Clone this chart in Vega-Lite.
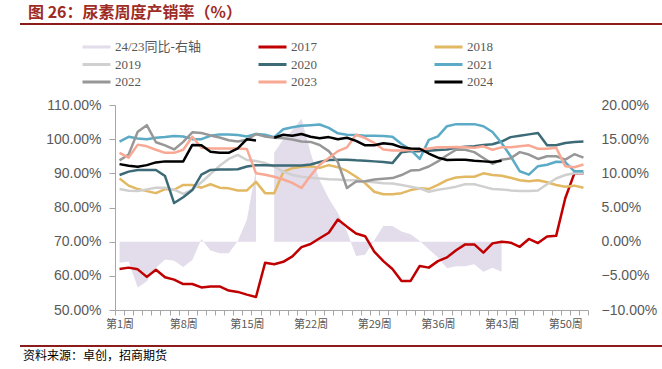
{
"$schema": "https://vega.github.io/schema/vega-lite/v6.json",
"background": "white",
"padding": {"left": 20, "top": 4, "right": 0, "bottom": 0},
"config": {"view": {"stroke": null}},
"datasets": {
"yoy": [
{"s":"24/23同比-右轴","w":1,"v":-3.1},{"s":"24/23同比-右轴","w":2,"v":-2.9},{"s":"24/23同比-右轴","w":3,"v":-6.7},{"s":"24/23同比-右轴","w":4,"v":-5.8},{"s":"24/23同比-右轴","w":5,"v":-3.8},{"s":"24/23同比-右轴","w":6,"v":-2.6},{"s":"24/23同比-右轴","w":7,"v":-2.8},{"s":"24/23同比-右轴","w":8,"v":-3.7},{"s":"24/23同比-右轴","w":9,"v":-2.7},{"s":"24/23同比-右轴","w":10,"v":0.4},
{"s":"24/23同比-右轴","w":11,"v":-1.3},{"s":"24/23同比-右轴","w":12,"v":-1.7},{"s":"24/23同比-右轴","w":13,"v":-1.7},{"s":"24/23同比-右轴","w":14,"v":0.1},{"s":"24/23同比-右轴","w":15,"v":3.2},{"s":"24/23同比-右轴","w":16,"v":10.6},{"s":"24/23同比-右轴","w":17,"v":null},{"s":"24/23同比-右轴","w":18,"v":13.0},{"s":"24/23同比-右轴","w":19,"v":15.0},{"s":"24/23同比-右轴","w":20,"v":16.3},
{"s":"24/23同比-右轴","w":21,"v":18.0},{"s":"24/23同比-右轴","w":22,"v":13.0},{"s":"24/23同比-右轴","w":23,"v":9.0},{"s":"24/23同比-右轴","w":24,"v":6.3},{"s":"24/23同比-右轴","w":25,"v":4.2},{"s":"24/23同比-右轴","w":26,"v":1.5},{"s":"24/23同比-右轴","w":27,"v":-2.1},{"s":"24/23同比-右轴","w":28,"v":-1.9},{"s":"24/23同比-右轴","w":29,"v":0.2},{"s":"24/23同比-右轴","w":30,"v":2.3},
{"s":"24/23同比-右轴","w":31,"v":2.3},{"s":"24/23同比-右轴","w":32,"v":1.5},{"s":"24/23同比-右轴","w":33,"v":1.1},{"s":"24/23同比-右轴","w":34,"v":0.1},{"s":"24/23同比-右轴","w":35,"v":-1.1},{"s":"24/23同比-右轴","w":36,"v":-2.3},{"s":"24/23同比-右轴","w":37,"v":-3.9},{"s":"24/23同比-右轴","w":38,"v":-3.6},{"s":"24/23同比-右轴","w":39,"v":-3.6},{"s":"24/23同比-右轴","w":40,"v":-3.3},
{"s":"24/23同比-右轴","w":41,"v":-4.4},{"s":"24/23同比-右轴","w":42,"v":-3.8},{"s":"24/23同比-右轴","w":43,"v":-4.4}
],
"rates": [
{"s":"2017","w":1,"v":62.0},{"s":"2017","w":2,"v":62.4},{"s":"2017","w":3,"v":61.9},{"s":"2017","w":4,"v":59.7},{"s":"2017","w":5,"v":61.8},{"s":"2017","w":6,"v":59.6},{"s":"2017","w":7,"v":58.9},{"s":"2017","w":8,"v":57.6},{"s":"2017","w":9,"v":57.6},{"s":"2017","w":10,"v":56.6},
{"s":"2017","w":11,"v":56.9},{"s":"2017","w":12,"v":56.9},{"s":"2017","w":13,"v":55.7},{"s":"2017","w":14,"v":55.3},{"s":"2017","w":15,"v":54.5},{"s":"2017","w":16,"v":53.8},{"s":"2017","w":17,"v":63.8},{"s":"2017","w":18,"v":63.4},{"s":"2017","w":19,"v":64.1},{"s":"2017","w":20,"v":65.7},
{"s":"2017","w":21,"v":68.4},{"s":"2017","w":22,"v":69.3},{"s":"2017","w":23,"v":71.0},{"s":"2017","w":24,"v":72.6},{"s":"2017","w":25,"v":76.5},{"s":"2017","w":26,"v":74.4},{"s":"2017","w":27,"v":72.4},{"s":"2017","w":28,"v":71.6},{"s":"2017","w":29,"v":67.1},{"s":"2017","w":30,"v":64.3},
{"s":"2017","w":31,"v":62.0},{"s":"2017","w":32,"v":58.5},{"s":"2017","w":33,"v":58.5},{"s":"2017","w":34,"v":62.9},{"s":"2017","w":35,"v":62.4},{"s":"2017","w":36,"v":64.3},{"s":"2017","w":37,"v":65.4},{"s":"2017","w":38,"v":67.5},{"s":"2017","w":39,"v":69.2},{"s":"2017","w":40,"v":69.2},
{"s":"2017","w":41,"v":66.8},{"s":"2017","w":42,"v":69.5},{"s":"2017","w":43,"v":70.0},{"s":"2017","w":44,"v":69.7},{"s":"2017","w":45,"v":68.5},{"s":"2017","w":46,"v":70.8},{"s":"2017","w":47,"v":69.6},{"s":"2017","w":48,"v":71.5},{"s":"2017","w":49,"v":71.7},{"s":"2017","w":50,"v":82.7},
{"s":"2017","w":51,"v":90.0},{"s":"2017","w":52,"v":90.0},
{"s":"2018","w":1,"v":88.5},{"s":"2018","w":2,"v":86.4},{"s":"2018","w":3,"v":85.4},{"s":"2018","w":4,"v":84.8},{"s":"2018","w":5,"v":84.2},{"s":"2018","w":6,"v":85.4},{"s":"2018","w":7,"v":85.2},{"s":"2018","w":8,"v":86.6},{"s":"2018","w":9,"v":86.6},{"s":"2018","w":10,"v":85.8},
{"s":"2018","w":11,"v":86.8},{"s":"2018","w":12,"v":85.8},{"s":"2018","w":13,"v":85.6},{"s":"2018","w":14,"v":85.0},{"s":"2018","w":15,"v":85.0},{"s":"2018","w":16,"v":87.5},{"s":"2018","w":17,"v":84.2},{"s":"2018","w":18,"v":84.2},{"s":"2018","w":19,"v":90.4},{"s":"2018","w":20,"v":91.5},
{"s":"2018","w":21,"v":91.9},{"s":"2018","w":22,"v":92.1},{"s":"2018","w":23,"v":91.6},{"s":"2018","w":24,"v":92.4},{"s":"2018","w":25,"v":91.8},{"s":"2018","w":26,"v":90.7},{"s":"2018","w":27,"v":89.0},{"s":"2018","w":28,"v":87.1},{"s":"2018","w":29,"v":84.6},{"s":"2018","w":30,"v":83.9},
{"s":"2018","w":31,"v":83.9},{"s":"2018","w":32,"v":84.2},{"s":"2018","w":33,"v":85.1},{"s":"2018","w":34,"v":85.6},{"s":"2018","w":35,"v":85.4},{"s":"2018","w":36,"v":86.6},{"s":"2018","w":37,"v":88.0},{"s":"2018","w":38,"v":88.8},{"s":"2018","w":39,"v":89.0},{"s":"2018","w":40,"v":89.0},
{"s":"2018","w":41,"v":90.0},{"s":"2018","w":42,"v":89.5},{"s":"2018","w":43,"v":89.3},{"s":"2018","w":44,"v":88.7},{"s":"2018","w":45,"v":88.0},{"s":"2018","w":46,"v":87.7},{"s":"2018","w":47,"v":88.0},{"s":"2018","w":48,"v":87.4},{"s":"2018","w":49,"v":86.6},{"s":"2018","w":50,"v":86.1},
{"s":"2018","w":51,"v":86.4},{"s":"2018","w":52,"v":85.8},
{"s":"2019","w":1,"v":85.4},{"s":"2019","w":2,"v":84.9},{"s":"2019","w":3,"v":84.8},{"s":"2019","w":4,"v":85.3},{"s":"2019","w":5,"v":85.8},{"s":"2019","w":6,"v":85.8},{"s":"2019","w":7,"v":85.2},{"s":"2019","w":8,"v":84.0},{"s":"2019","w":9,"v":85.2},{"s":"2019","w":10,"v":87.4},
{"s":"2019","w":11,"v":89.8},{"s":"2019","w":12,"v":92.2},{"s":"2019","w":13,"v":94.2},{"s":"2019","w":14,"v":95.4},{"s":"2019","w":15,"v":93.9},{"s":"2019","w":16,"v":93.6},{"s":"2019","w":17,"v":93.0},{"s":"2019","w":18,"v":92.0},{"s":"2019","w":19,"v":90.5},{"s":"2019","w":20,"v":89.5},
{"s":"2019","w":21,"v":89.0},{"s":"2019","w":22,"v":88.7},{"s":"2019","w":23,"v":88.5},{"s":"2019","w":24,"v":88.3},{"s":"2019","w":25,"v":88.2},{"s":"2019","w":26,"v":88.0},{"s":"2019","w":27,"v":88.0},{"s":"2019","w":28,"v":87.6},{"s":"2019","w":29,"v":87.4},{"s":"2019","w":30,"v":87.1},
{"s":"2019","w":31,"v":87.0},{"s":"2019","w":32,"v":86.6},{"s":"2019","w":33,"v":86.1},{"s":"2019","w":34,"v":85.6},{"s":"2019","w":35,"v":84.6},{"s":"2019","w":36,"v":85.2},{"s":"2019","w":37,"v":85.6},{"s":"2019","w":38,"v":86.1},{"s":"2019","w":39,"v":86.8},{"s":"2019","w":40,"v":86.8},
{"s":"2019","w":41,"v":86.1},{"s":"2019","w":42,"v":85.4},{"s":"2019","w":43,"v":85.3},{"s":"2019","w":44,"v":85.0},{"s":"2019","w":45,"v":84.8},{"s":"2019","w":46,"v":84.8},{"s":"2019","w":47,"v":85.0},{"s":"2019","w":48,"v":86.8},{"s":"2019","w":49,"v":88.5},{"s":"2019","w":50,"v":89.5},
{"s":"2019","w":51,"v":90.0},{"s":"2019","w":52,"v":90.0},
{"s":"2020","w":1,"v":89.5},{"s":"2020","w":2,"v":90.5},{"s":"2020","w":3,"v":91.0},{"s":"2020","w":4,"v":91.0},{"s":"2020","w":5,"v":91.0},{"s":"2020","w":6,"v":89.2},{"s":"2020","w":7,"v":81.3},{"s":"2020","w":8,"v":83.0},{"s":"2020","w":9,"v":85.1},{"s":"2020","w":10,"v":89.6},
{"s":"2020","w":11,"v":91.0},{"s":"2020","w":12,"v":91.1},{"s":"2020","w":13,"v":91.1},{"s":"2020","w":14,"v":91.2},{"s":"2020","w":15,"v":92.0},{"s":"2020","w":16,"v":92.4},{"s":"2020","w":17,"v":92.4},{"s":"2020","w":18,"v":92.3},{"s":"2020","w":19,"v":92.3},{"s":"2020","w":20,"v":92.3},
{"s":"2020","w":21,"v":92.3},{"s":"2020","w":22,"v":92.6},{"s":"2020","w":23,"v":93.3},{"s":"2020","w":24,"v":93.9},{"s":"2020","w":25,"v":94.0},{"s":"2020","w":26,"v":94.0},{"s":"2020","w":27,"v":93.8},{"s":"2020","w":28,"v":93.7},{"s":"2020","w":29,"v":93.5},{"s":"2020","w":30,"v":93.3},
{"s":"2020","w":31,"v":93.0},{"s":"2020","w":32,"v":96.2},{"s":"2020","w":33,"v":96.5},{"s":"2020","w":34,"v":96.5},{"s":"2020","w":35,"v":96.6},{"s":"2020","w":36,"v":96.8},{"s":"2020","w":37,"v":97.0},{"s":"2020","w":38,"v":97.5},{"s":"2020","w":39,"v":97.8},{"s":"2020","w":40,"v":97.9},
{"s":"2020","w":41,"v":98.3},{"s":"2020","w":42,"v":98.5},{"s":"2020","w":43,"v":99.3},{"s":"2020","w":44,"v":100.6},{"s":"2020","w":45,"v":101.0},{"s":"2020","w":46,"v":101.4},{"s":"2020","w":47,"v":101.8},{"s":"2020","w":48,"v":98.2},{"s":"2020","w":49,"v":98.2},{"s":"2020","w":50,"v":98.9},
{"s":"2020","w":51,"v":99.2},{"s":"2020","w":52,"v":99.3},
{"s":"2021","w":1,"v":99.3},{"s":"2021","w":2,"v":100.7},{"s":"2021","w":3,"v":100.2},{"s":"2021","w":4,"v":100.0},{"s":"2021","w":5,"v":100.4},{"s":"2021","w":6,"v":100.6},{"s":"2021","w":7,"v":100.9},{"s":"2021","w":8,"v":100.8},{"s":"2021","w":9,"v":100.0},{"s":"2021","w":10,"v":100.0},
{"s":"2021","w":11,"v":101.0},{"s":"2021","w":12,"v":101.4},{"s":"2021","w":13,"v":101.4},{"s":"2021","w":14,"v":101.2},{"s":"2021","w":15,"v":100.8},{"s":"2021","w":16,"v":101.5},{"s":"2021","w":17,"v":101.3},{"s":"2021","w":18,"v":100.6},{"s":"2021","w":19,"v":102.9},{"s":"2021","w":20,"v":103.5},
{"s":"2021","w":21,"v":103.9},{"s":"2021","w":22,"v":104.1},{"s":"2021","w":23,"v":104.3},{"s":"2021","w":24,"v":103.3},{"s":"2021","w":25,"v":101.7},{"s":"2021","w":26,"v":101.3},{"s":"2021","w":27,"v":101.2},{"s":"2021","w":28,"v":101.0},{"s":"2021","w":29,"v":101.0},{"s":"2021","w":30,"v":100.9},
{"s":"2021","w":31,"v":100.7},{"s":"2021","w":32,"v":98.6},{"s":"2021","w":33,"v":96.9},{"s":"2021","w":34,"v":94.2},{"s":"2021","w":35,"v":99.8},{"s":"2021","w":36,"v":100.8},{"s":"2021","w":37,"v":103.8},{"s":"2021","w":38,"v":104.4},{"s":"2021","w":39,"v":104.4},{"s":"2021","w":40,"v":104.4},
{"s":"2021","w":41,"v":103.8},{"s":"2021","w":42,"v":102.1},{"s":"2021","w":43,"v":98.9},{"s":"2021","w":44,"v":95.0},{"s":"2021","w":45,"v":90.6},{"s":"2021","w":46,"v":89.6},{"s":"2021","w":47,"v":92.1},{"s":"2021","w":48,"v":92.5},{"s":"2021","w":49,"v":93.4},{"s":"2021","w":50,"v":93.3},
{"s":"2021","w":51,"v":90.6},{"s":"2021","w":52,"v":90.6},
{"s":"2022","w":1,"v":93.8},{"s":"2022","w":2,"v":95.5},{"s":"2022","w":3,"v":102.2},{"s":"2022","w":4,"v":104.1},{"s":"2022","w":5,"v":99.1},{"s":"2022","w":6,"v":98.2},{"s":"2022","w":7,"v":97.0},{"s":"2022","w":8,"v":99.2},{"s":"2022","w":9,"v":102.0},{"s":"2022","w":10,"v":101.8},
{"s":"2022","w":11,"v":101.1},{"s":"2022","w":12,"v":100.5},{"s":"2022","w":13,"v":99.7},{"s":"2022","w":14,"v":99.3},{"s":"2022","w":15,"v":99.8},{"s":"2022","w":16,"v":101.5},{"s":"2022","w":17,"v":100.8},{"s":"2022","w":18,"v":100.4},{"s":"2022","w":19,"v":100.3},{"s":"2022","w":20,"v":99.9},
{"s":"2022","w":21,"v":99.3},{"s":"2022","w":22,"v":99.2},{"s":"2022","w":23,"v":98.3},{"s":"2022","w":24,"v":96.5},{"s":"2022","w":25,"v":93.3},{"s":"2022","w":26,"v":85.7},{"s":"2022","w":27,"v":87.6},{"s":"2022","w":28,"v":87.7},{"s":"2022","w":29,"v":88.2},{"s":"2022","w":30,"v":88.4},
{"s":"2022","w":31,"v":88.6},{"s":"2022","w":32,"v":89.5},{"s":"2022","w":33,"v":90.8},{"s":"2022","w":34,"v":91.0},{"s":"2022","w":35,"v":92.0},{"s":"2022","w":36,"v":93.5},{"s":"2022","w":37,"v":95.3},{"s":"2022","w":38,"v":96.9},{"s":"2022","w":39,"v":96.9},{"s":"2022","w":40,"v":96.2},
{"s":"2022","w":41,"v":94.5},{"s":"2022","w":42,"v":92.8},{"s":"2022","w":43,"v":94.0},{"s":"2022","w":44,"v":94.4},{"s":"2022","w":45,"v":96.2},{"s":"2022","w":46,"v":95.5},{"s":"2022","w":47,"v":94.2},{"s":"2022","w":48,"v":95.0},{"s":"2022","w":49,"v":95.0},{"s":"2022","w":50,"v":94.0},
{"s":"2022","w":51,"v":95.6},{"s":"2022","w":52,"v":94.6},
{"s":"2023","w":1,"v":96.0},{"s":"2023","w":2,"v":94.6},{"s":"2023","w":3,"v":98.4},{"s":"2023","w":4,"v":97.9},{"s":"2023","w":5,"v":96.9},{"s":"2023","w":6,"v":96.0},{"s":"2023","w":7,"v":96.0},{"s":"2023","w":8,"v":96.9},{"s":"2023","w":9,"v":100.7},{"s":"2023","w":10,"v":97.5},
{"s":"2023","w":11,"v":97.3},{"s":"2023","w":12,"v":97.3},{"s":"2023","w":13,"v":97.3},{"s":"2023","w":14,"v":97.3},{"s":"2023","w":15,"v":97.1},{"s":"2023","w":16,"v":90.0},{"s":"2023","w":17,"v":89.6},{"s":"2023","w":18,"v":89.0},{"s":"2023","w":19,"v":88.2},{"s":"2023","w":20,"v":87.2},
{"s":"2023","w":21,"v":85.7},{"s":"2023","w":22,"v":89.3},{"s":"2023","w":23,"v":92.5},{"s":"2023","w":24,"v":94.5},{"s":"2023","w":25,"v":96.5},{"s":"2023","w":26,"v":97.6},{"s":"2023","w":27,"v":101.3},{"s":"2023","w":28,"v":100.3},{"s":"2023","w":29,"v":98.9},{"s":"2023","w":30,"v":97.0},
{"s":"2023","w":31,"v":96.7},{"s":"2023","w":32,"v":96.7},{"s":"2023","w":33,"v":96.8},{"s":"2023","w":34,"v":97.0},{"s":"2023","w":35,"v":97.3},{"s":"2023","w":36,"v":97.6},{"s":"2023","w":37,"v":97.6},{"s":"2023","w":38,"v":97.7},{"s":"2023","w":39,"v":97.6},{"s":"2023","w":40,"v":97.5},
{"s":"2023","w":41,"v":97.9},{"s":"2023","w":42,"v":96.9},{"s":"2023","w":43,"v":97.6},{"s":"2023","w":44,"v":97.6},{"s":"2023","w":45,"v":97.9},{"s":"2023","w":46,"v":98.2},{"s":"2023","w":47,"v":97.2},{"s":"2023","w":48,"v":97.2},{"s":"2023","w":49,"v":97.5},{"s":"2023","w":50,"v":92.1},
{"s":"2023","w":51,"v":91.8},{"s":"2023","w":52,"v":92.6},
{"s":"2024","w":1,"v":92.7},{"s":"2024","w":2,"v":92.2},{"s":"2024","w":3,"v":91.9},{"s":"2024","w":4,"v":92.4},{"s":"2024","w":5,"v":93.2},{"s":"2024","w":6,"v":93.5},{"s":"2024","w":7,"v":93.5},{"s":"2024","w":8,"v":93.5},{"s":"2024","w":9,"v":98.3},{"s":"2024","w":10,"v":98.2},
{"s":"2024","w":11,"v":96.3},{"s":"2024","w":12,"v":96.0},{"s":"2024","w":13,"v":96.0},{"s":"2024","w":14,"v":97.3},{"s":"2024","w":15,"v":100.0},{"s":"2024","w":16,"v":99.6},{"s":"2024","w":17,"v":null},{"s":"2024","w":18,"v":100.4},{"s":"2024","w":19,"v":101.3},{"s":"2024","w":20,"v":101.0},
{"s":"2024","w":21,"v":101.5},{"s":"2024","w":22,"v":100.7},{"s":"2024","w":23,"v":100.3},{"s":"2024","w":24,"v":100.6},{"s":"2024","w":25,"v":100.0},{"s":"2024","w":26,"v":100.4},{"s":"2024","w":27,"v":99.5},{"s":"2024","w":28,"v":98.2},{"s":"2024","w":29,"v":98.2},{"s":"2024","w":30,"v":98.8},
{"s":"2024","w":31,"v":98.5},{"s":"2024","w":32,"v":97.6},{"s":"2024","w":33,"v":97.3},{"s":"2024","w":34,"v":97.2},{"s":"2024","w":35,"v":95.8},{"s":"2024","w":36,"v":94.6},{"s":"2024","w":37,"v":93.9},{"s":"2024","w":38,"v":94.0},{"s":"2024","w":39,"v":94.0},{"s":"2024","w":40,"v":93.7},
{"s":"2024","w":41,"v":93.5},{"s":"2024","w":42,"v":93.3},{"s":"2024","w":43,"v":93.7}
]
},
"vconcat": [
 {
  "vconcat": [
   {
    "data": {"values": []},
    "mark": "point",
    "width": 640,
    "height": 0.01,
    "view": {"stroke": "#8C1C1C", "strokeWidth": 2},
    "title": {"text": "图 26：尿素周度产销率（%）", "anchor": "start", "orient": "top", "offset": 3, "dx": 7, "font": "Noto Sans CJK SC", "fontSize": 16, "fontWeight": "bold", "color": "#9E2B25"}
   },
   {
    "hconcat": [
     {"data": {"values": []}, "mark": "point", "width": 8, "height": 0.01},
     {
      "width": 473,
      "height": 205,
      "layer": [
       {
        "data": {"name": "yoy"},
        "mark": {"type": "area", "invalid": "break-paths-show-domains", "opacity": 1},
        "encoding": {
         "x": {"field": "w", "type": "ordinal", "bandPosition": 0.5, "scale": {"type": "band", "paddingInner": 0, "paddingOuter": 0},
               "axis": {"title": null, "labelExpr": "datum.value % 7 === 1 ? '第' + datum.value + '周' : ''", "labelAngle": 0, "labelOverlap": false, "tickBand": "extent", "tickSize": 5, "tickColor": "#A6A6A6", "domainColor": "#A6A6A6", "labelFont": "Noto Sans CJK SC", "labelFontSize": 11, "labelColor": "#595959", "labelPadding": 3, "grid": false}},
         "y": {"field": "v", "type": "quantitative", "scale": {"domain": [-10, 20], "nice": false},
               "axis": {"orient": "right", "title": null, "values": [-10, -5, 0, 5, 10, 15, 20], "labelExpr": "format(datum.value, '.2f') + '%'", "domain": false, "ticks": false, "labelPadding": 13, "labelFont": "Liberation Sans", "labelFontSize": 14, "labelColor": "#595959", "grid": false}},
         "color": {"field": "s", "type": "nominal",
                   "scale": {"domain": ["24/23同比-右轴", "2017", "2018", "2019", "2020", "2021", "2022", "2023", "2024"], "range": ["#E3DCEB", "#C00000", "#E2B862", "#D0D0D0", "#3D6A77", "#5BAAC6", "#979797", "#F8A893", "#000000"]},
                   "legend": {"title": null, "orient": "none", "legendX": 60, "legendY": 15.5, "direction": "horizontal", "columns": 3, "gridAlign": "all", "columnPadding": 56, "rowPadding": 2.5, "clipHeight": 15, "padding": 0, "symbolType": "stroke", "symbolSize": 784, "symbolStrokeWidth": 3, "labelOffset": 3, "labelFont": "Liberation Serif, Noto Sans CJK SC", "labelFontSize": 13, "labelColor": "#595959",
                              "encode": {"symbols": {"update": {"strokeWidth": {"signal": "datum.value === '24/23同比-右轴' ? 10 : 3"}}}}}}
        }
       },
       {
        "data": {"name": "rates"},
        "mark": {"type": "line", "strokeWidth": 2.5, "strokeJoin": "round", "invalid": "break-paths-show-domains"},
        "encoding": {
         "x": {"field": "w", "type": "ordinal", "bandPosition": 0.5},
         "y": {"field": "v", "type": "quantitative", "scale": {"domain": [50, 110], "nice": false},
               "axis": {"orient": "left", "title": null, "values": [50, 60, 70, 80, 90, 100, 110], "labelExpr": "format(datum.value, '.2f') + '%'", "tickSize": 6, "tickColor": "#A6A6A6", "domainColor": "#A6A6A6", "labelPadding": 8, "labelFont": "Liberation Sans", "labelFontSize": 14, "labelColor": "#595959", "grid": false}},
         "color": {"field": "s", "type": "nominal"}
        }
       }
      ],
      "resolve": {"scale": {"y": "independent"}}
     }
    ],
    "spacing": 16
   }
  ],
  "spacing": 72
 },
 {
  "data": {"values": []},
  "mark": "point",
  "width": 640,
  "height": 0.01,
  "view": {"stroke": "#8C1C1C", "strokeWidth": 2},
  "title": {"text": "资料来源：卓创，招商期货", "anchor": "start", "orient": "bottom", "offset": 5, "dx": 2, "font": "Noto Sans CJK SC", "fontSize": 12, "fontWeight": "normal", "color": "#000000"}
 }
],
"spacing": 16
}
